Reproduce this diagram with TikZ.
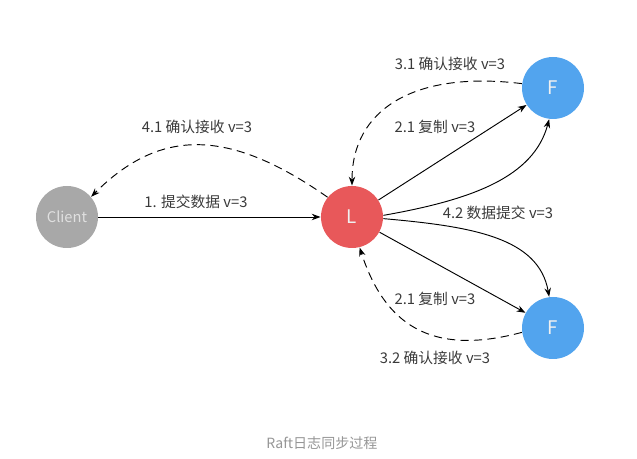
\documentclass[tikz,border=0pt]{standalone}
\usepackage{fontspec}
\setmainfont{Noto Sans CJK SC}
\usepackage{tikz}
\usetikzlibrary{arrows.meta,positioning}
\definecolor{clientgray}{RGB}{168,168,168}
\definecolor{leaderred}{RGB}{232,88,90}
\definecolor{followerblue}{RGB}{82,164,238}
\definecolor{labelgray}{RGB}{58,58,58}
\definecolor{captiongray}{RGB}{150,150,150}
\tikzset{
  server/.style={circle, minimum size=1.86cm, inner sep=0pt, text=white!94!black,
                 font=\fontsize{16}{16}\selectfont},
  msg/.style={text=labelgray, inner sep=0pt, font=\fontsize{12.6}{14}\selectfont},
  ack/.style={dash pattern=on 7pt off 4.5pt},
}

\begin{document}
\begin{tikzpicture}[x=0.03cm, y=0.03cm, ->, >={Stealth[length=7.5pt,width=5.5pt]}, line width=0.8pt]
  \useasboundingbox (0,0) rectangle (637,-459);

  \node[server, fill=clientgray, text=white!88!black, font=\fontsize{12.5}{12}\selectfont] (Client) at (67,-217) {Client};
  \node[server, fill=leaderred] (L) at (352,-217) {L};
  \node[server, fill=followerblue] (Ft) at (553,-88) {F};
  \node[server, fill=followerblue] (Fb) at (553,-328) {F};

  \node[msg] (lbl41) at (197,-127) {4.1 确认接收 v=3};
  \node[msg] (lbl1) at (196,-202) {1. 提交数据 v=3};
  \node[msg] (lbl31) at (450,-64) {3.1 确认接收 v=3};
  \node[msg] (lbl21a) at (435,-127) {2.1 复制 v=3};
  \node[msg] (lbl42) at (498,-213) {4.2 数据提交 v=3};
  \node[msg] (lbl21b) at (435,-299) {2.1 复制 v=3};
  \node[msg] (lbl32) at (435,-358) {3.2 确认接收 v=3};
  \node[text=captiongray, font=\fontsize{12}{13}\selectfont] (caption) at (322,-443) {Raft日志同步过程};

  \draw (Client) -- (L);
  \draw (L) -- (Ft);
  \draw (L) -- (Fb);
  \draw (L.3) .. controls +(10:90) and +(255:60) .. (Ft.263);
  \draw (L.-3) .. controls +(-5:90) and +(100:60) .. (Fb.97);
  \draw[ack] (L.141) .. controls +(145:120) and +(45:98) .. (Client.40);
  \draw[ack] (Ft.172) .. controls +(173:110) and +(90:75) .. (L.north);
  \draw[ack] (Fb.188) .. controls +(195:95) and +(288:80) .. (L.-76);
\end{tikzpicture}
\end{document}
